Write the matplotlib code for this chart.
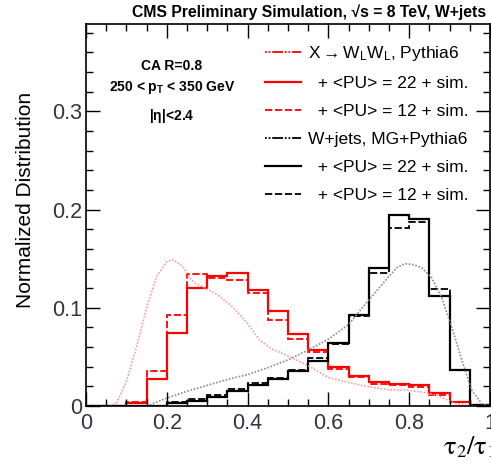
import numpy as np
import matplotlib
matplotlib.use('Agg')
import matplotlib.pyplot as plt
from matplotlib.lines import Line2D
from matplotlib.ticker import MultipleLocator, FuncFormatter

plt.rcParams['font.family'] = ['Liberation Sans', 'DejaVu Sans']
plt.rcParams['mathtext.fontset'] = 'custom'
plt.rcParams['mathtext.rm'] = 'Liberation Sans'
plt.rcParams['mathtext.it'] = 'Liberation Sans:italic'
plt.rcParams['mathtext.bf'] = 'Liberation Sans:bold'

# bin edges of tau2/tau1, width 0.05
edges = np.linspace(0.0, 1.0, 21)

# X -> WLWL (signal)
sig_pu22 = [0, 0, 0.003, 0.027, 0.074, 0.120, 0.1325, 0.1356, 0.118, 0.097,
            0.073, 0.057, 0.040, 0.031, 0.024, 0.022, 0.021, 0.013, 0.0044, 0.0007]
sig_pu12 = [0, 0, 0.004, 0.036, 0.093, 0.134, 0.130, 0.128, 0.115, 0.088,
            0.068, 0.055, 0.038, 0.0295, 0.0224, 0.021, 0.019, 0.0115, 0.0037, 0.0005]

# W+jets (background)
bkg_pu22 = [0, 0, 0, 0, 0.003, 0.0055, 0.0095, 0.0156, 0.0217, 0.027,
            0.036, 0.046, 0.064, 0.0925, 0.141, 0.194, 0.190, 0.112, 0.037, 0.001]
bkg_pu12 = [0, 0, 0, 0, 0.0037, 0.0068, 0.011, 0.017, 0.023, 0.0285,
            0.037, 0.0485, 0.063, 0.092, 0.135, 0.181, 0.1875, 0.119, 0.037, 0.001]

# generator-level smooth curves
sig_x = [0.02, 0.05, 0.075, 0.1, 0.125, 0.15, 0.175, 0.2, 0.215, 0.24, 0.255,
         0.27, 0.3, 0.33, 0.36, 0.4, 0.43, 0.46, 0.5, 0.55, 0.6, 0.65, 0.7,
         0.75, 0.8, 0.85, 0.88, 0.91, 0.94, 0.97]
sig_y = [0.0, -0.002, 0.003, 0.025, 0.06, 0.1, 0.132, 0.147, 0.149, 0.142, 0.131,
         0.125, 0.119, 0.112, 0.102, 0.084, 0.067, 0.058, 0.051, 0.041, 0.029,
         0.024, 0.0195, 0.0165, 0.016, 0.013, 0.009, 0.003, 0.001, 0.0]
bkg_x = [0.15, 0.2, 0.25, 0.3, 0.35, 0.4, 0.45, 0.5, 0.55, 0.6, 0.65, 0.7,
         0.75, 0.77, 0.79, 0.81, 0.83, 0.855, 0.88, 0.905, 0.93, 0.955, 0.98, 1.0]
bkg_y = [0.0, 0.008, 0.015, 0.021, 0.027, 0.032, 0.039, 0.047, 0.057, 0.068,
         0.083, 0.108, 0.132, 0.141, 0.145, 0.144, 0.141, 0.131, 0.111, 0.081,
         0.047, 0.016, 0.002, 0.0]

labels = [r'X$\rightarrow$W$_\mathrm{L}$W$_\mathrm{L}$, Pythia6',
          '  + <PU> = 22 + sim.',
          '  + <PU> = 12 + sim.',
          'W+jets, MG+Pythia6',
          '  + <PU> = 22 + sim.',
          '  + <PU> = 12 + sim.']

fig = plt.figure(figsize=(4.91, 4.65), dpi=100)
ax = fig.add_axes([86 / 491, 1 - 406 / 465, 404 / 491, 382 / 465])

dash = (0, (4, 1.5))
dot = (0, (1, 1))

ax.plot(sig_x, sig_y, color='#ff9a9a', lw=1.2, ls=dot)
ax.plot(bkg_x, bkg_y, color='#8c8c8c', lw=1.2, ls=dot)
ax.stairs(sig_pu12, edges, color='red', lw=1.3, ls=dash)
ax.stairs(sig_pu22, edges, color='red', lw=1.6)
ax.stairs(bkg_pu12, edges, color='black', lw=1.3, ls=dash)
ax.stairs(bkg_pu22, edges, color='black', lw=1.6)

ax.set_xlim(0, 1)
ax.set_ylim(0, 0.389)

ax.xaxis.set_major_locator(MultipleLocator(0.2))
ax.xaxis.set_minor_locator(MultipleLocator(0.05))
ax.yaxis.set_major_locator(MultipleLocator(0.1))
ax.yaxis.set_minor_locator(MultipleLocator(0.02))
fmt = FuncFormatter(lambda v, p: '0' if abs(v) < 1e-9 else '%g' % v)
ax.xaxis.set_major_formatter(fmt)
ax.yaxis.set_major_formatter(fmt)
ax.tick_params(which='both', direction='in', top=True, right=True,
               labelsize=15.5, labelcolor='#333344', width=1.0)
ax.tick_params(which='major', length=10)
ax.tick_params(which='minor', length=5)
ax.tick_params(axis='x', pad=5)
ax.tick_params(axis='y', pad=3)
for s in ax.spines.values():
    s.set_linewidth(1.2)

ax.set_ylabel('Normalized Distribution', fontsize=15)
ax.yaxis.set_label_coords(-0.126, 0.54)

fig.text(443 / 491, 1 - 447 / 465, r'$\mathrm{\tau_2/\tau_1}$', fontsize=19,
         ha='left', va='center', math_fontfamily='stix')
fig.text(0.99, 1 - 12 / 465, 'CMS Preliminary Simulation, √s = 8 TeV, W+jets',
         ha='right', va='center', fontsize=11.3, fontweight='bold')

ax.text(0.213, 0.89, 'CA R=0.8', transform=ax.transAxes, ha='center', va='center',
        fontsize=10, fontweight='bold')
ax.text(0.213, 0.835, r'250 < p$_\mathbf{T}$ < 350 GeV', transform=ax.transAxes,
        ha='center', va='center', fontsize=10, fontweight='bold')
ax.text(0.213, 0.76, r'|$\mathbf{\eta}$|<2.4', transform=ax.transAxes,
        ha='center', va='center', fontsize=10, fontweight='bold')

handles = [Line2D([], [], color='red', lw=1.3, ls=(0, (1, 1, 1, 1, 6, 1))),
           Line2D([], [], color='red', lw=1.6),
           Line2D([], [], color='red', lw=1.3, ls=dash),
           Line2D([], [], color='black', lw=1.3, ls=(0, (1, 1, 1, 1, 6, 1))),
           Line2D([], [], color='black', lw=1.6),
           Line2D([], [], color='black', lw=1.3, ls=dash)]
ax.legend(handles, labels, loc='upper left', bbox_to_anchor=(0.443, 0.948),
          frameon=False, fontsize=12.5, handlelength=2.07, handletextpad=0.4,
          labelspacing=0.74, borderpad=0, borderaxespad=0)

fig.savefig('out.png', dpi=100)
